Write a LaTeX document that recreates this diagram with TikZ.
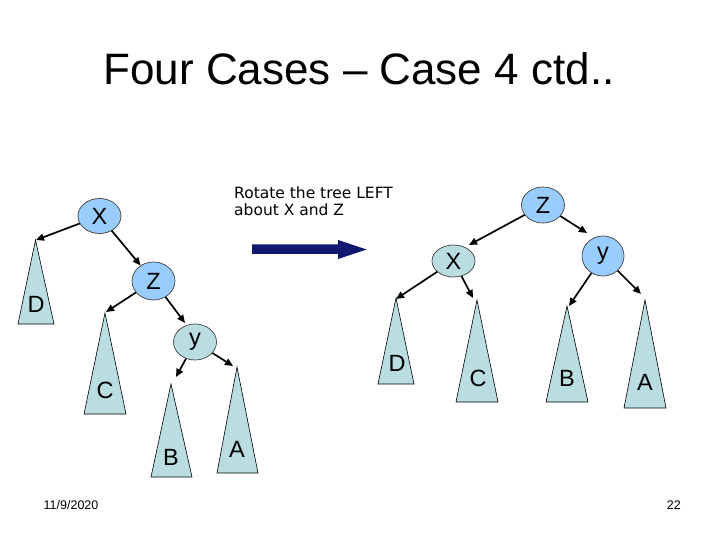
\documentclass[tikz,border=0pt]{standalone}
\usepackage{fontspec}
\setmainfont{Liberation Sans}
\newfontfamily\verd{DejaVu Sans}
\usetikzlibrary{arrows.meta,shapes.geometric}
\definecolor{nodeblue}{RGB}{153,204,255}
\definecolor{nodeteal}{RGB}{185,221,225}
\definecolor{navy}{RGB}{16,24,112}
\tikzset{
  bnode/.style={ellipse,draw=black!75,line width=0.7bp,fill=nodeblue,minimum width=43bp,minimum height=35bp,inner sep=0pt,font=\fontsize{23.5bp}{26bp}\selectfont},
  tnode/.style={bnode,fill=nodeteal},
  subtree/.style={draw=black,line width=0.6bp,fill=nodeteal,line join=miter},
  tlabel/.style={inner sep=0pt,font=\fontsize{23.5bp}{26bp}\selectfont},
  edge/.style={line width=1.7bp,-{Triangle[length=8bp,width=7bp]}},
}
\begin{document}
\begin{tikzpicture}[x=1bp,y=-1bp]
\useasboundingbox (0,0) rectangle (720,540);
\fill[white] (0,0) rectangle (720,540);

% title
\node[anchor=base,inner sep=0pt,font=\fontsize{44bp}{50bp}\selectfont] (title) at (359,85) {Four Cases – Case 4 ctd..};

% caption
\node[anchor=north west,inner sep=0pt,align=left,font=\verd\fontsize{15.5bp}{16.5bp}\selectfont] (cap) at (234,187) {Rotate the tree LEFT\\about X and Z};

% big arrow
\fill[navy] (252,244.5) -- (338,244.5) -- (338,240) -- (366.5,249.5) -- (338,259) -- (338,254) -- (252,254) -- cycle;

% ---------- left tree ----------
\node[bnode,minimum height=35bp] (LX) at (99.5,216) {X};
\node[bnode,minimum height=38bp] (LZ) at (153.5,281) {Z};
\node[tnode,minimum height=36bp] (Ly) at (195,342) {y};

\draw[subtree] (35.5,240) coordinate (LDtop) -- (54,324) -- (18,324) -- cycle;
\node[tlabel] (LDl) at (36,304) {D};
\draw[subtree] (105,313) coordinate (LCtop) -- (126,414) -- (84,414) -- cycle;
\node[tlabel] (LCl) at (105,390) {C};
\draw[subtree] (171,384) coordinate (LBtop) -- (192,477) -- (151,477) -- cycle;
\node[tlabel] (LBl) at (171,457) {B};
\draw[subtree] (237,367) coordinate (LAtop) -- (258,473) -- (217,473) -- cycle;
\node[tlabel] (LAl) at (237,449) {A};

\coordinate (tLD) at (36,240);
\coordinate (tLC) at (106,312);
\coordinate (tLy) at (185,323);
\coordinate (tLB) at (176,377);
\coordinate (tLA) at (233,366);

\draw[edge] (LX) -- (tLD);
\draw[edge] (LX) -- (LZ);
\draw[edge] (LZ) -- (tLC);
\draw[edge] (LZ) -- (tLy);
\draw[edge] (Ly) -- (tLB);
\draw[edge] (Ly) -- (tLA);

% ---------- right tree ----------
\node[bnode,minimum height=36bp] (RZ) at (543,205) {Z};
\node[tnode,minimum height=32bp] (RX) at (453.5,261) {X};
\node[bnode,minimum width=42bp,minimum height=40bp] (Ry) at (603,256) {y};

\draw[subtree] (396,298) coordinate (RDtop) -- (414,384) -- (378,384) -- cycle;
\node[tlabel] (RDl) at (397,363) {D};
\draw[subtree] (477,300) coordinate (RCtop) -- (498,402) -- (456,402) -- cycle;
\node[tlabel] (RCl) at (478,378) {C};
\draw[subtree] (567,306) coordinate (RBtop) -- (588,402) -- (546,402) -- cycle;
\node[tlabel] (RBl) at (567,378) {B};
\draw[subtree] (645,300) coordinate (RAtop) -- (666,408) -- (624,408) -- cycle;
\node[tlabel] (RAl) at (645,382) {A};

\coordinate (tRX) at (469,245);
\coordinate (tRy) at (587,233);
\coordinate (tRD) at (396,299);
\coordinate (tRC) at (473,298);
\coordinate (tRB) at (569,306);
\coordinate (tRA) at (641,294);

\draw[edge] (RZ) -- (tRX);
\draw[edge] (RZ) -- (tRy);
\draw[edge] (RX) -- (tRD);
\draw[edge] (RX) -- (tRC);
\draw[edge] (Ry) -- (tRB);
\draw[edge] (Ry) -- (tRA);

% footer
\node[anchor=base west,inner sep=0pt,font=\fontsize{12.5bp}{14bp}\selectfont] (date) at (43.5,509.5) {11/9/2020};
\node[anchor=base east,inner sep=0pt,font=\fontsize{12.5bp}{14bp}\selectfont] (page) at (681,509.5) {22};
\end{tikzpicture}
\end{document}
